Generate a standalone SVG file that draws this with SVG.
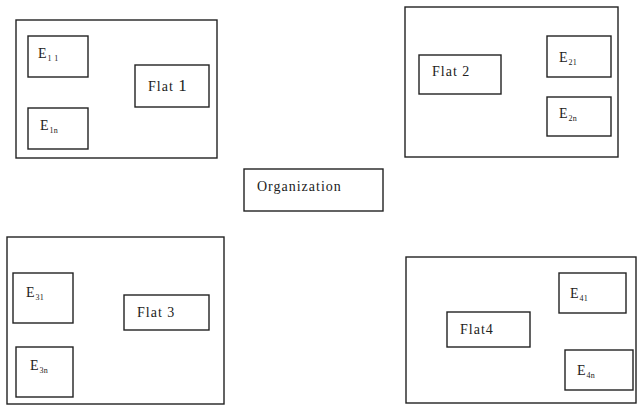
<svg xmlns="http://www.w3.org/2000/svg" width="638" height="406" viewBox="0 0 638 406">
<style>
rect{fill:none;stroke:#222;stroke-width:1.4}
text{font-family:"Liberation Serif","Times New Roman",serif;font-size:14px;fill:#222;letter-spacing:1px}
.s{font-size:8px;letter-spacing:0.3px}
</style>
<rect x="0" y="0" width="638" height="406" style="fill:#fff;stroke:none"/>
<g id="group1">
<rect x="16" y="20" width="201" height="138"/>
<g id="e11"><rect x="28" y="36" width="60" height="41"/><text x="38" y="58">E<tspan class="s" dy="3">1 1</tspan></text></g>
<g id="e1n"><rect x="28" y="108" width="60" height="41"/><text x="40" y="130">E<tspan class="s" dy="3">1n</tspan></text></g>
<g id="flat1"><rect x="135" y="65" width="74" height="42"/><text x="148" y="91">Flat <tspan style="font-size:17px">1</tspan></text></g>
</g>
<g id="group2">
<rect x="405" y="7" width="213" height="150"/>
<g id="flat2"><rect x="419" y="55" width="82" height="39"/><text x="432" y="76">Flat 2</text></g>
<g id="e21"><rect x="547" y="36" width="64" height="41"/><text x="559" y="62">E<tspan class="s" dy="3">21</tspan></text></g>
<g id="e2n"><rect x="547" y="97" width="64" height="39"/><text x="559" y="118">E<tspan class="s" dy="3">2n</tspan></text></g>
</g>
<g id="organization"><rect x="244" y="169" width="139" height="42"/><text x="257" y="191">Organization</text></g>
<g id="group3">
<rect x="7" y="237" width="217" height="167"/>
<g id="e31"><rect x="13" y="273" width="60" height="50"/><text x="26" y="297">E<tspan class="s" dy="3">31</tspan></text></g>
<g id="e3n"><rect x="16" y="347" width="57" height="50"/><text x="30" y="370">E<tspan class="s" dy="3">3n</tspan></text></g>
<g id="flat3"><rect x="124" y="295" width="85" height="35"/><text x="137" y="317">Flat 3</text></g>
</g>
<g id="group4">
<rect x="406" y="257" width="230" height="146"/>
<g id="e41"><rect x="559" y="273" width="67" height="40"/><text x="570" y="298">E<tspan class="s" dy="3">41</tspan></text></g>
<g id="flat4"><rect x="447" y="312" width="83" height="35"/><text x="460" y="334">Flat4</text></g>
<g id="e4n"><rect x="565" y="350" width="68" height="40"/><text x="577" y="375">E<tspan class="s" dy="3">4n</tspan></text></g>
</g>
<g id="connectors"></g>
</svg>
